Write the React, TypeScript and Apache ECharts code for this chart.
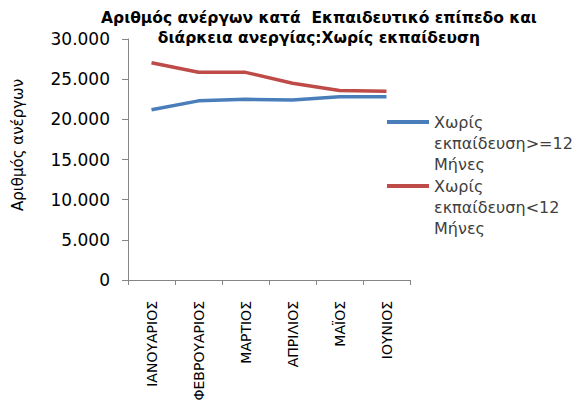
import React, { useEffect, useRef } from "react";
import * as echarts from "echarts";

const months = ["ΙΑΝΟΥΑΡΙΟΣ", "ΦΕΒΡΟΥΑΡΙΟΣ", "ΜΑΡΤΙΟΣ", "ΑΠΡΙΛΙΟΣ", "ΜΑΪΟΣ", "ΙΟΥΝΙΟΣ"];
const longTerm = [21200, 22300, 22500, 22400, 22800, 22800];
const shortTerm = [27050, 25850, 25850, 24500, 23600, 23500];
const seriesNames = ["Χωρίς\nεκπαίδευση>=12\nΜήνες", "Χωρίς\nεκπαίδευση<12\nΜήνες"];
const titleText = "Αριθμός ανέργων κατά  Εκπαιδευτικό επίπεδο και\nδιάρκεια ανεργίας:Χωρίς εκπαίδευση";
const yName = "Αριθμός ανέργων";

const FONT = "DejaVu Sans";

export default function App() {
  const ref = useRef<HTMLDivElement>(null);
  useEffect(() => {
    const chart = echarts.init(ref.current!, null, { renderer: "svg" });
    chart.setOption({
      animation: false,
      backgroundColor: "#ffffff",
      textStyle: { fontFamily: FONT },
      title: {
        text: titleText,
        left: 319,
        top: 8,
        padding: 0,
        textAlign: "center",
        textStyle: {
          fontFamily: FONT,
          fontWeight: "bold",
          fontSize: 15.5,
          lineHeight: 20,
          color: "#000000",
        },
      },
      legend: {
        orient: "vertical",
        left: 387,
        top: 69.5,
        padding: 0,
        itemGap: -41,
        itemWidth: 42,
        itemHeight: 4,
        icon: "rect",
        formatter: (name: string) => "\n\n" + name,
        textStyle: {
          fontFamily: FONT,
          fontSize: 16,
          lineHeight: 21,
          color: "#404040",
        },
        data: seriesNames,
      },
      grid: { left: 128, right: 174, top: 39, bottom: 132, containLabel: false },
      xAxis: {
        type: "category",
        data: months,
        boundaryGap: true,
        axisLine: { show: true, lineStyle: { color: "#868686", width: 1 } },
        axisTick: { show: true, length: 5, lineStyle: { color: "#868686" } },
        axisLabel: {
          rotate: 90,
          margin: 21,
          fontFamily: FONT,
          fontSize: 14,
          color: "#000000",
          interval: 0,
        },
      },
      yAxis: {
        type: "value",
        min: 0,
        max: 30000,
        interval: 5000,
        name: yName,
        nameLocation: "middle",
        nameGap: 103,
        nameTextStyle: {
          fontFamily: FONT,
          fontSize: 15,
          color: "#000000",
          padding: [0, 0, 0, 29],
        },
        axisLine: { show: true, lineStyle: { color: "#868686", width: 1 } },
        axisTick: { show: true, length: 6, lineStyle: { color: "#868686" } },
        splitLine: { show: false },
        axisLabel: {
          margin: 18,
          fontFamily: FONT,
          fontSize: 17,
          color: "#000000",
          formatter: (v: number) => v.toLocaleString("de-DE"),
        },
      },
      series: [
        {
          name: seriesNames[0],
          type: "line",
          data: longTerm,
          showSymbol: false,
          symbol: "none",
          lineStyle: { color: "#4a7ebb", width: 3.5 },
          itemStyle: { color: "#4a7ebb" },
        },
        {
          name: seriesNames[1],
          type: "line",
          data: shortTerm,
          showSymbol: false,
          symbol: "none",
          lineStyle: { color: "#be4b48", width: 3.5 },
          itemStyle: { color: "#be4b48" },
        },
      ],
    });
    return () => chart.dispose();
  }, []);
  return <div ref={ref} style={{ width: 584, height: 412, margin: -8 }} />;
}
